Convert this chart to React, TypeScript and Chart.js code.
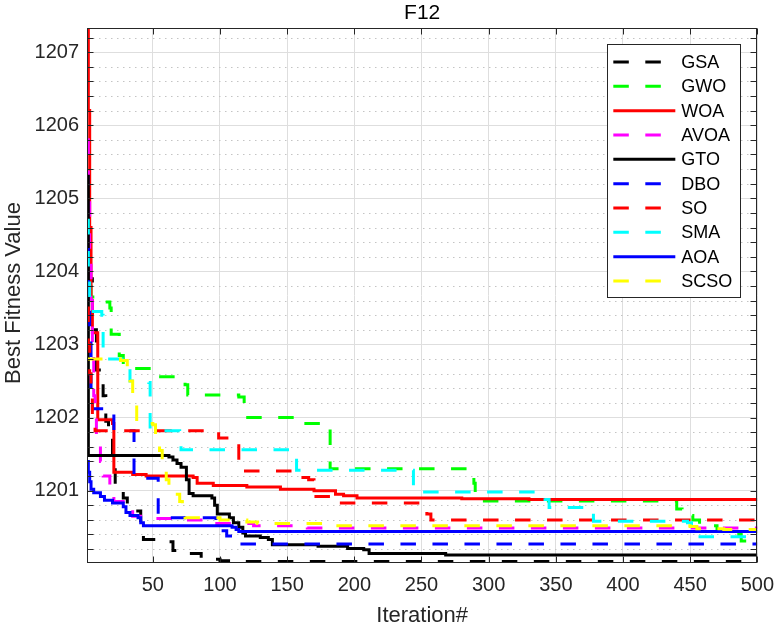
import React, { useEffect, useRef } from 'react';
import { Chart, registerables } from 'chart.js';

Chart.register(...registerables);

// ---------- data ----------
const chartTitle = 'F12';
const xAxisTitle = 'Iteration#';
const yAxisTitle = 'Best Fitness Value';

const seriesNames = ['GSA', 'GWO', 'WOA', 'AVOA', 'GTO', 'DBO', 'SO', 'SMA', 'AOA', 'SCSO'];

// [iteration, best fitness] breakpoints of each convergence curve (step curves)
const gsa = [[1, 1205.3], [2, 1204.6], [3, 1203.9], [5, 1203.2], [8, 1202.65], [13, 1202.3], [15, 1201.95], [17, 1201.8], [20, 1201.35], [22, 1201.05], [28, 1200.9], [31, 1200.72], [41, 1200.55], [43, 1200.33], [62, 1200.3], [65, 1200.18], [77, 1200.14], [86, 1200.06], [100, 1200.04], [112, 1200.03], [500, 1200.03]];
const gwo = [[1, 1204.2], [2, 1203.85], [4, 1203.65], [11, 1203.58], [18, 1203.5], [19, 1203.14], [25, 1202.85], [28, 1202.72], [30, 1202.67], [52, 1202.56], [74, 1202.45], [76, 1202.31], [114, 1202.28], [118, 1202.18], [119, 1202.0], [160, 1201.92], [182, 1201.3], [289, 1201.1], [290, 1200.86], [440, 1200.75], [444, 1200.66], [452, 1200.6], [457, 1200.52], [470, 1200.46], [478, 1200.4], [488, 1200.31], [496, 1200.25], [500, 1200.25]];
const woa = [[1, 1208.5], [2, 1206.2], [3, 1204.6], [4, 1203.6], [5, 1203.16], [9, 1201.97], [20, 1201.92], [21, 1201.25], [35, 1201.22], [45, 1201.2], [80, 1201.18], [83, 1201.1], [95, 1201.07], [120, 1201.05], [145, 1201.02], [170, 1201.0], [186, 1200.95], [192, 1200.93], [202, 1200.9], [280, 1200.89], [330, 1200.88], [500, 1200.88]];
const avoa = [[1, 1205.8], [2, 1205.0], [3, 1204.3], [4, 1203.6], [5, 1203.0], [6, 1202.3], [7, 1202.0], [8, 1201.7], [11, 1201.4], [13, 1201.2], [18, 1201.0], [21, 1200.85], [31, 1200.75], [35, 1200.65], [48, 1200.62], [75, 1200.6], [95, 1200.55], [125, 1200.52], [165, 1200.49], [500, 1200.48]];
const gto = [[1, 1205.3], [2, 1201.48], [62, 1201.46], [65, 1201.42], [68, 1201.37], [71, 1201.32], [75, 1201.15], [77, 1200.96], [80, 1200.93], [94, 1200.9], [96, 1200.8], [98, 1200.68], [107, 1200.63], [110, 1200.56], [114, 1200.5], [117, 1200.42], [119, 1200.38], [130, 1200.36], [136, 1200.33], [139, 1200.26], [173, 1200.24], [195, 1200.21], [207, 1200.19], [211, 1200.14], [268, 1200.12], [500, 1200.12]];
const dbo = [[1, 1204.3], [2, 1203.6], [3, 1203.2], [4, 1202.3], [5, 1202.12], [21, 1201.82], [36, 1201.17], [54, 1200.63], [97, 1200.45], [105, 1200.38], [112, 1200.27], [500, 1200.27]];
const so = [[1, 1203.5], [2, 1203.0], [3, 1202.6], [4, 1202.3], [5, 1202.0], [7, 1201.82], [97, 1201.8], [99, 1201.72], [114, 1201.27], [156, 1201.24], [160, 1201.18], [166, 1201.15], [170, 1200.92], [183, 1200.83], [252, 1200.8], [254, 1200.68], [257, 1200.6], [500, 1200.6]];
const sma = [[1, 1204.7], [2, 1203.9], [3, 1203.45], [12, 1203.4], [13, 1202.8], [31, 1202.78], [33, 1202.5], [47, 1202.48], [48, 1201.82], [70, 1201.8], [71, 1201.56], [156, 1201.55], [157, 1201.28], [244, 1200.98], [336, 1200.95], [342, 1200.88], [345, 1200.77], [377, 1200.76], [378, 1200.58], [448, 1200.56], [451, 1200.37], [500, 1200.36]];
const aoa = [[1, 1201.4], [2, 1201.25], [3, 1201.12], [4, 1201.02], [6, 1200.97], [11, 1200.92], [14, 1200.87], [20, 1200.83], [28, 1200.78], [30, 1200.7], [33, 1200.66], [39, 1200.63], [41, 1200.56], [43, 1200.52], [109, 1200.5], [112, 1200.47], [114, 1200.44], [500, 1200.44]];
const scso = [[1, 1202.8], [26, 1202.78], [31, 1202.7], [33, 1202.5], [35, 1202.3], [38, 1201.92], [50, 1201.9], [52, 1201.7], [55, 1201.55], [57, 1201.3], [60, 1201.15], [62, 1200.95], [70, 1200.85], [72, 1200.7], [74, 1200.63], [100, 1200.6], [120, 1200.57], [128, 1200.55], [180, 1200.52], [450, 1200.51], [455, 1200.48], [475, 1200.47], [500, 1200.47]];

const seriesData = [gsa, gwo, woa, avoa, gto, dbo, so, sma, aoa, scso];

const xTickValues = [50, 100, 150, 200, 250, 300, 350, 400, 450, 500];
const yTickValues = [1201, 1202, 1203, 1204, 1205, 1206, 1207];
const xRange = [1, 500];
const yRange = [1200.01, 1207.33];
const yMinorStep = 0.2;

// ---------- styles ----------
const seriesColors = ['#000000', '#00ff00', '#ff0000', '#ff00ff', '#000000', '#0000ff', '#ff0000', '#00ffff', '#0000ff', '#ffff00'];
const seriesDashed = [true, true, false, true, false, true, true, true, false, true];
const DASH = [15.5, 16.5];
const FONT = '"Liberation Sans", Arial, Helvetica, sans-serif';
const AXIS_COLOR = '#262626';

const minorGridPlugin = {
  id: 'minorGrid',
  beforeDatasetsDraw(chart: any) {
    const { ctx, chartArea } = chart;
    const ys = chart.scales.y;
    ctx.save();
    ctx.strokeStyle = '#c4c4c4';
    ctx.lineWidth = 1;
    ctx.setLineDash([1.5, 4.5]);
    const k0 = Math.ceil(ys.min / yMinorStep - 1e-9);
    for (let k = k0; k * yMinorStep <= ys.max + 1e-9; k++) {
      const v = k * yMinorStep;
      if (Math.abs(v - Math.round(v)) < 1e-6) continue;
      const py = Math.round(ys.getPixelForValue(v)) + 0.5;
      ctx.beginPath();
      ctx.moveTo(chartArea.left, py);
      ctx.lineTo(chartArea.right, py);
      ctx.stroke();
    }
    ctx.restore();
  },
};

const boxPlugin = {
  id: 'matlabBox',
  afterDatasetsDraw(chart: any) {
    const { ctx, chartArea } = chart;
    const { left, right, top, bottom } = chartArea;
    const ys = chart.scales.y;
    const xs = chart.scales.x;
    ctx.save();
    ctx.strokeStyle = AXIS_COLOR;
    ctx.lineWidth = 1;
    ctx.setLineDash([]);
    const L = Math.round(left) + 0.5;
    const R = Math.round(right) - 0.5;
    const T = Math.round(top) + 0.5;
    const B = Math.round(bottom) - 0.5;
    ctx.strokeRect(L, T, R - L, B - T);
    const tl = 6;
    ctx.beginPath();
    const k0 = Math.ceil(ys.min / yMinorStep - 1e-9);
    for (let k = k0; k * yMinorStep <= ys.max + 1e-9; k++) {
      const py = Math.round(ys.getPixelForValue(k * yMinorStep)) + 0.5;
      ctx.moveTo(L, py);
      ctx.lineTo(L + tl, py);
      ctx.moveTo(R, py);
      ctx.lineTo(R - tl, py);
    }
    xs.ticks.forEach((t: any) => {
      const px = Math.round(xs.getPixelForValue(t.value)) + 0.5;
      ctx.moveTo(px, B);
      ctx.lineTo(px, B - tl);
      ctx.moveTo(px, T);
      ctx.lineTo(px, T + tl);
    });
    ctx.stroke();
    ctx.restore();
  },
};

const labelsPlugin = {
  id: 'matlabLabels',
  afterDraw(chart: any) {
    const { ctx, chartArea } = chart;
    const cx = (chartArea.left + chartArea.right) / 2;
    ctx.save();
    ctx.fillStyle = '#000000';
    ctx.textAlign = 'center';
    ctx.textBaseline = 'alphabetic';
    ctx.font = `21px ${FONT}`;
    ctx.fillText(chartTitle, cx, 18.5);
    ctx.fillStyle = AXIS_COLOR;
    ctx.font = `22px ${FONT}`;
    ctx.fillText(xAxisTitle, cx, 622);
    ctx.translate(19.5, 293);
    ctx.rotate(-Math.PI / 2);
    ctx.fillText(yAxisTitle, 0, 0);
    ctx.restore();
  },
};

const legendPlugin = {
  id: 'matlabLegend',
  afterDraw(chart: any) {
    const { ctx, chartArea } = chart;
    const bx = chartArea.right - 150;
    const by = chartArea.top + 16;
    const bw = 133;
    const bh = 253;
    ctx.save();
    ctx.fillStyle = '#ffffff';
    ctx.fillRect(bx, by, bw, bh);
    ctx.strokeStyle = AXIS_COLOR;
    ctx.lineWidth = 1;
    ctx.setLineDash([]);
    ctx.strokeRect(Math.round(bx) + 0.5, Math.round(by) + 0.5, bw, bh);
    ctx.font = `18px ${FONT}`;
    ctx.textBaseline = 'middle';
    ctx.textAlign = 'left';
    chart.data.datasets.forEach((ds: any, i: number) => {
      const y = by + 18 + i * 24.33;
      ctx.strokeStyle = ds.borderColor;
      ctx.lineWidth = 3;
      ctx.lineCap = 'butt';
      ctx.setLineDash(ds.borderDash || []);
      ctx.beginPath();
      ctx.moveTo(bx + 6, y);
      ctx.lineTo(bx + 68, y);
      ctx.stroke();
      ctx.setLineDash([]);
      ctx.fillStyle = '#000000';
      ctx.fillText(ds.label, bx + 74, y + 1);
    });
    ctx.restore();
  },
};

export default function App() {
  const canvasRef = useRef<HTMLCanvasElement | null>(null);

  useEffect(() => {
    const canvas = canvasRef.current;
    if (!canvas) return;
    const n = seriesNames.length;
    const datasets = seriesNames.map((name, i) => ({
      label: name,
      data: seriesData[i].map(([x, y]) => ({ x, y })),
      borderColor: seriesColors[i],
      backgroundColor: seriesColors[i],
      borderWidth: 3,
      borderDash: seriesDashed[i] ? DASH : [],
      stepped: true as const,
      pointRadius: 0,
      fill: false,
      clip: 0,
      order: n - 1 - i,
    }));

    const chart = new Chart(canvas, {
      type: 'line',
      data: { datasets },
      options: {
        animation: false,
        responsive: false,
        events: [],
        layout: { padding: { left: 0, right: 20, top: 28, bottom: 0 } },
        plugins: {
          legend: { display: false },
          tooltip: { enabled: false },
          title: { display: false },
        },
        scales: {
          x: {
            type: 'linear',
            min: xRange[0],
            max: xRange[1],
            afterFit: (s: any) => { s.height = 63; },
            afterBuildTicks: (s: any) => { s.ticks = xTickValues.map((v) => ({ value: v })); },
            ticks: {
              autoSkip: false,
              maxRotation: 0,
              padding: 10,
              color: AXIS_COLOR,
              font: { family: FONT, size: 20 },
              callback: (v: any) => String(Math.round(Number(v))),
            },
            grid: { color: '#dedede', lineWidth: 1, drawTicks: false },
            border: { display: false },
          },
          y: {
            type: 'linear',
            min: yRange[0],
            max: yRange[1],
            afterFit: (s: any) => { s.width = 87; },
            afterBuildTicks: (s: any) => { s.ticks = yTickValues.map((v) => ({ value: v })); },
            ticks: {
              autoSkip: false,
              padding: 8,
              color: AXIS_COLOR,
              font: { family: FONT, size: 20 },
              callback: (v: any) => String(Math.round(Number(v))),
            },
            grid: { color: '#dedede', lineWidth: 1, drawTicks: false },
            border: { display: false },
          },
        },
      } as any,
      plugins: [minorGridPlugin, boxPlugin, labelsPlugin, legendPlugin],
    });
    return () => chart.destroy();
  }, []);

  return (
    <div style={{ position: 'fixed', left: 0, top: 0, width: 784, height: 626, background: '#ffffff' }}>
      <canvas ref={canvasRef} width={784} height={626} style={{ display: 'block', width: 784, height: 626 }} />
    </div>
  );
}
